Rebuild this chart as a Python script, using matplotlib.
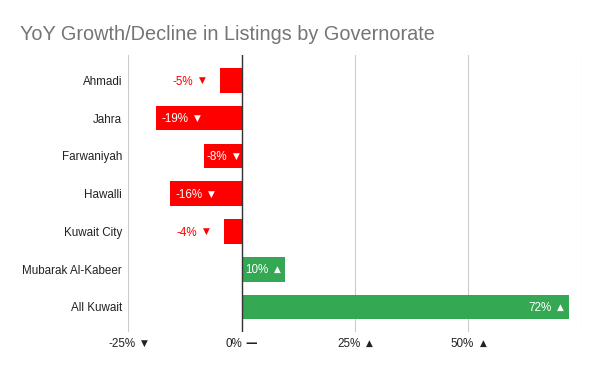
import matplotlib
matplotlib.use("Agg")
import matplotlib.pyplot as plt

plt.rcParams['font.family'] = ['Liberation Sans', 'DejaVu Sans']

# данные
regions = ['Ahmadi', 'Jahra', 'Farwaniyah', 'Hawalli', 'Kuwait City',
           'Mubarak Al-Kabeer', 'All Kuwait']
growth = [-4.7, -18.8, -8.2, -15.7, -4.0, 9.5, 72.2]
value_labels = ['-5%', '-19%', '-8%', '-16%', '-4%', '10%', '72%']
label_inside = [False, True, True, True, False, True, True]
xticks = [-25, 0, 25, 50, 75]
xtick_labels = ['-25%', '0%', '25%', '50%', '']

RED = '#ff0000'
GREEN = '#34a853'
FS = 8.4
SYM_FS = 6.4
BASE = -4.2      # px, сдвиг базовой линии от центра строки

fig = plt.figure(figsize=(6, 3.71), dpi=100)
ax = fig.add_axes([128.3 / 600, 1 - 332.3 / 371, (581.7 - 128.3) / 600, (332.3 - 54.7) / 371])
renderer = fig.canvas.get_renderer()


def arrow_for(v):
    if v > 0:
        return '▲'
    if v < 0:
        return '▼'
    return '—'


def sym_props(sym):
    if sym == '—':
        return dict(fontsize=FS, family='DejaVu Sans', weight='bold')
    return dict(fontsize=SYM_FS, family='DejaVu Sans')


def gap_for(sym):
    # px между числом и значком
    return 3.0 if sym == '—' else 6.0


def text_w(s, **kw):
    t = fig.text(0, 0, s, **kw)
    w = t.get_window_extent(renderer).width
    t.remove()
    return w


def label_width(num, sym):
    return text_w(num, fontsize=FS) + gap_for(sym) + text_w(sym, **sym_props(sym))


def draw_label(xy, num, color, mode, off, transform, base=BASE, **kw):
    sym = arrow_for(float(num.rstrip('%')))
    wn = text_w(num, fontsize=FS)
    total = label_width(num, sym)
    if mode == 'right':
        start = off - total
    elif mode == 'left':
        start = off
    else:
        start = -total / 2
    ax.annotate(num, xy, xycoords=transform, xytext=(start, base),
                textcoords='offset pixels', ha='left', va='baseline',
                color=color, fontsize=FS, annotation_clip=False, **kw)
    sym_base = base if sym == '—' else base + 1.3
    ax.annotate(sym, xy, xycoords=transform, xytext=(start + wn + gap_for(sym), sym_base),
                textcoords='offset pixels', ha='left', va='baseline',
                color=color, annotation_clip=False, **sym_props(sym), **kw)


ypos = list(range(len(regions)))
colors = [GREEN if v > 0 else RED for v in growth]
ax.barh(ypos, growth, height=0.65, color=colors, zorder=2)
ax.set_xlim(-25, 75)
ax.set_ylim(6.67, -0.68)

px_per_unit = ax.transData.transform((1, 0))[0] - ax.transData.transform((0, 0))[0]

# подписи значений
for y, v, lab, inside in zip(ypos, growth, value_labels, label_inside):
    if inside:
        total = label_width(lab, arrow_for(v))
        bar_px = abs(v) * px_per_unit
        if total + 10 > bar_px:
            # тесно — центрируем в столбце
            draw_label((v / 2, y), lab, 'white', 'center', 0, ax.transData, zorder=5)
        elif v > 0:
            draw_label((v, y), lab, 'white', 'right', -5, ax.transData, zorder=5)
        else:
            draw_label((v, y), lab, 'white', 'left', 4.7, ax.transData, zorder=5)
    else:
        draw_label((v, y), lab, RED, 'right', -14, ax.transData, zorder=5)

ax.set_yticks(ypos)
ax.set_yticklabels(regions, fontsize=FS, color='#222222')
ax.set_xticks(xticks)
ax.set_xticklabels([])
ax.tick_params(length=0)
ax.tick_params(axis='y', pad=4.5)

# подписи оси X со стрелками
for t, lab in zip(xticks, xtick_labels):
    if lab:
        draw_label((t, 0), lab, '#222222', 'center', 0, ax.get_xaxis_transform(),
                   base=-14.9)

ax.grid(axis='x', color='#cccccc', linewidth=0.8, zorder=0)
ax.set_axisbelow(True)
ax.axvline(0, color='#333333', linewidth=1, zorder=3)
for s in ax.spines.values():
    s.set_visible(False)

fig.text(20 / 600, 1 - 40 / 371, 'YoY Growth/Decline in Listings by Governorate',
         fontsize=14.3, color='#757575', ha='left', va='baseline')

fig.savefig('out.png', dpi=100, facecolor='white')
